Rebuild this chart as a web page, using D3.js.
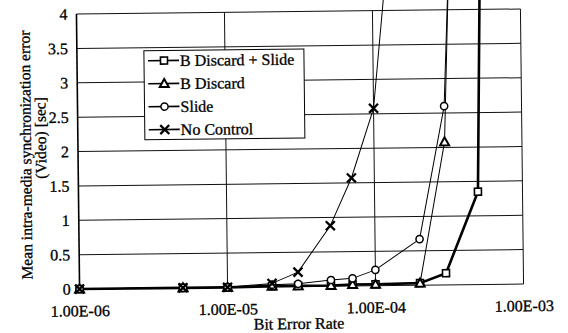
<!DOCTYPE html>
<html><head><meta charset="utf-8">
<script src="https://cdn.jsdelivr.net/npm/d3@7"></script>
<style>
body{margin:0;background:#fff}
svg{display:block}
svg text{font-family:'Liberation Serif','Times New Roman','DejaVu Serif',serif;fill:#000;stroke:#000;stroke-width:0.3px}
</style>
</head><body>
<svg id="c" width="568" height="333"></svg>
<script>
const berValues = [1e-6,5e-6,1e-5,2e-5,3e-5,5e-5,7e-5,1e-4,2e-4,3e-4,5e-4,1e-3];
const seriesNames = ["B Discard + Slide","B Discard","Slide","No Control"];
const discardSlide = [0,0,0,0.01,0.01,0.01,0.02,0.02,0.03,0.17,1.35,35];
const discardOnly  = [0,0,0,0.01,0.01,0.01,0.02,0.02,0.03,2.08,16,null];
const slideOnly    = [0,0,0,0.03,0.04,0.09,0.11,0.23,0.67,2.60,14,null];
const noControl    = [0,0,0,0.05,0.21,0.88,1.57,2.58,9,null,null,null];
const yTicks = [0,0.5,1,1.5,2,2.5,3,3.5,4];
const xTicks = [1e-6,1e-5,1e-4,1e-3];
const xTickLabels = ["1.00E-06","1.00E-05","1.00E-04","1.00E-03"];
const xTitle = "Bit Error Rate";
const yTitle = ["Mean intra-media synchronization error","(Video) [sec]"];

const FONT = "'Liberation Serif','Times New Roman','DejaVu Serif',serif";

const series = [
  {name: seriesNames[0], values: discardSlide, marker: "square",   width: 2.6},
  {name: seriesNames[1], values: discardOnly,  marker: "triangle", width: 1},
  {name: seriesNames[2], values: slideOnly,    marker: "circle",   width: 1},
  {name: seriesNames[3], values: noControl,    marker: "cross",    width: 1}
];

const svg = d3.select("#c");
const g = svg.append("g").attr("transform","rotate(-0.65,301,149)");

const x = d3.scaleLog().domain([1e-6,1e-3]).range([78,522]);
const y = d3.scaleLinear().domain([0,4]).range([286.5,11.5]);

// gridlines
g.append("g").selectAll("line").data(yTicks).join("line")
  .attr("x1", x(1e-6)).attr("x2", x(1e-3))
  .attr("y1", d=>y(d)).attr("y2", d=>y(d))
  .attr("stroke","#111").attr("stroke-width",1);
g.append("g").selectAll("line").data(xTicks.slice(1)).join("line")
  .attr("x1", d=>x(d)).attr("x2", d=>x(d))
  .attr("y1", y(0)).attr("y2", y(4))
  .attr("stroke","#111").attr("stroke-width",1);
g.append("line").attr("x1",x(1e-6)).attr("x2",x(1e-6)).attr("y1",y(0)).attr("y2",y(4))
  .attr("stroke","#000").attr("stroke-width",1.6);

// axes
const yAxis = g.append("g").attr("transform",`translate(${x(1e-6)},0)`)
  .call(d3.axisLeft(y).tickValues(yTicks).tickSize(0).tickPadding(9).tickFormat(d3.format("")));
yAxis.attr("font-family",FONT).attr("font-size",16);
yAxis.select(".domain").remove();

const xAxis = g.append("g").attr("transform",`translate(0,${y(0)})`)
  .call(d3.axisBottom(x).tickValues(xTicks).tickSize(0).tickPadding(16).tickFormat((d,i)=>xTickLabels[i]));
xAxis.attr("font-family",FONT).attr("font-size",16);
xAxis.select(".domain").remove();

// titles
g.append("text").attr("x",297).attr("y",329).attr("text-anchor","middle")
  .attr("font-family",FONT).attr("font-size",16).text(xTitle);
g.append("text").attr("transform","translate(31,152) rotate(-90)").attr("text-anchor","middle")
  .attr("font-family",FONT).attr("font-size",15.6).text(yTitle[0]);
g.append("text").attr("transform","translate(46,135) rotate(-90)").attr("text-anchor","middle")
  .attr("font-family",FONT).attr("font-size",15.6).text(yTitle[1]);

function drawMarker(sel, type){
  if(type==="square"){
    sel.append("rect").attr("x",-3.5).attr("y",-3.5).attr("width",7).attr("height",7)
      .attr("fill","#fff").attr("stroke","#000").attr("stroke-width",1.6);
  } else if(type==="triangle"){
    sel.append("path").attr("d","M0,-4.5L4.5,3.5L-4.5,3.5Z")
      .attr("fill","#fff").attr("stroke","#000").attr("stroke-width",2);
  } else if(type==="circle"){
    sel.append("circle").attr("r",3.6)
      .attr("fill","#fff").attr("stroke","#000").attr("stroke-width",1.5);
  } else {
    sel.append("path").attr("d","M-4.5,-4.5L4.5,4.5M-4.5,4.5L4.5,-4.5")
      .attr("fill","none").attr("stroke","#000").attr("stroke-width",2.3);
  }
}

const line = d3.line().defined(d=>d.v!=null).x(d=>x(d.b)).y(d=>y(d.v));
series.forEach(s=>{
  const pts = berValues.map((b,i)=>({b, v:s.values[i]}));
  g.append("path").datum(pts).attr("d",line)
    .attr("fill","none").attr("stroke","#000").attr("stroke-width",s.width).attr("stroke-linejoin","round");
});
series.forEach(s=>{
  const pts = berValues.map((b,i)=>({b, v:s.values[i]})).filter(d=>d.v!=null && d.v<=4);
  g.append("g").selectAll("g").data(pts).join("g")
    .attr("transform",d=>`translate(${x(d.b)},${y(d.v)})`)
    .each(function(){ drawMarker(d3.select(this), s.marker); });
});

// legend
const leg = g.append("g");
leg.append("rect").attr("x",145).attr("y",49).attr("width",160).attr("height",89)
  .attr("fill","#fff").attr("stroke","#000").attr("stroke-width",1);
series.forEach((s,i)=>{
  const ly = 59 + i*23;
  leg.append("line").attr("x1",149).attr("x2",180).attr("y1",ly).attr("y2",ly)
    .attr("stroke","#000").attr("stroke-width",1.6);
  const m = leg.append("g").attr("transform",`translate(165,${ly})`);
  drawMarker(m, s.marker);
  leg.append("text").attr("x",181).attr("y",ly).attr("dy","0.35em")
    .attr("font-family",FONT).attr("font-size",16).text(s.name);
});
</script>
</body></html>
